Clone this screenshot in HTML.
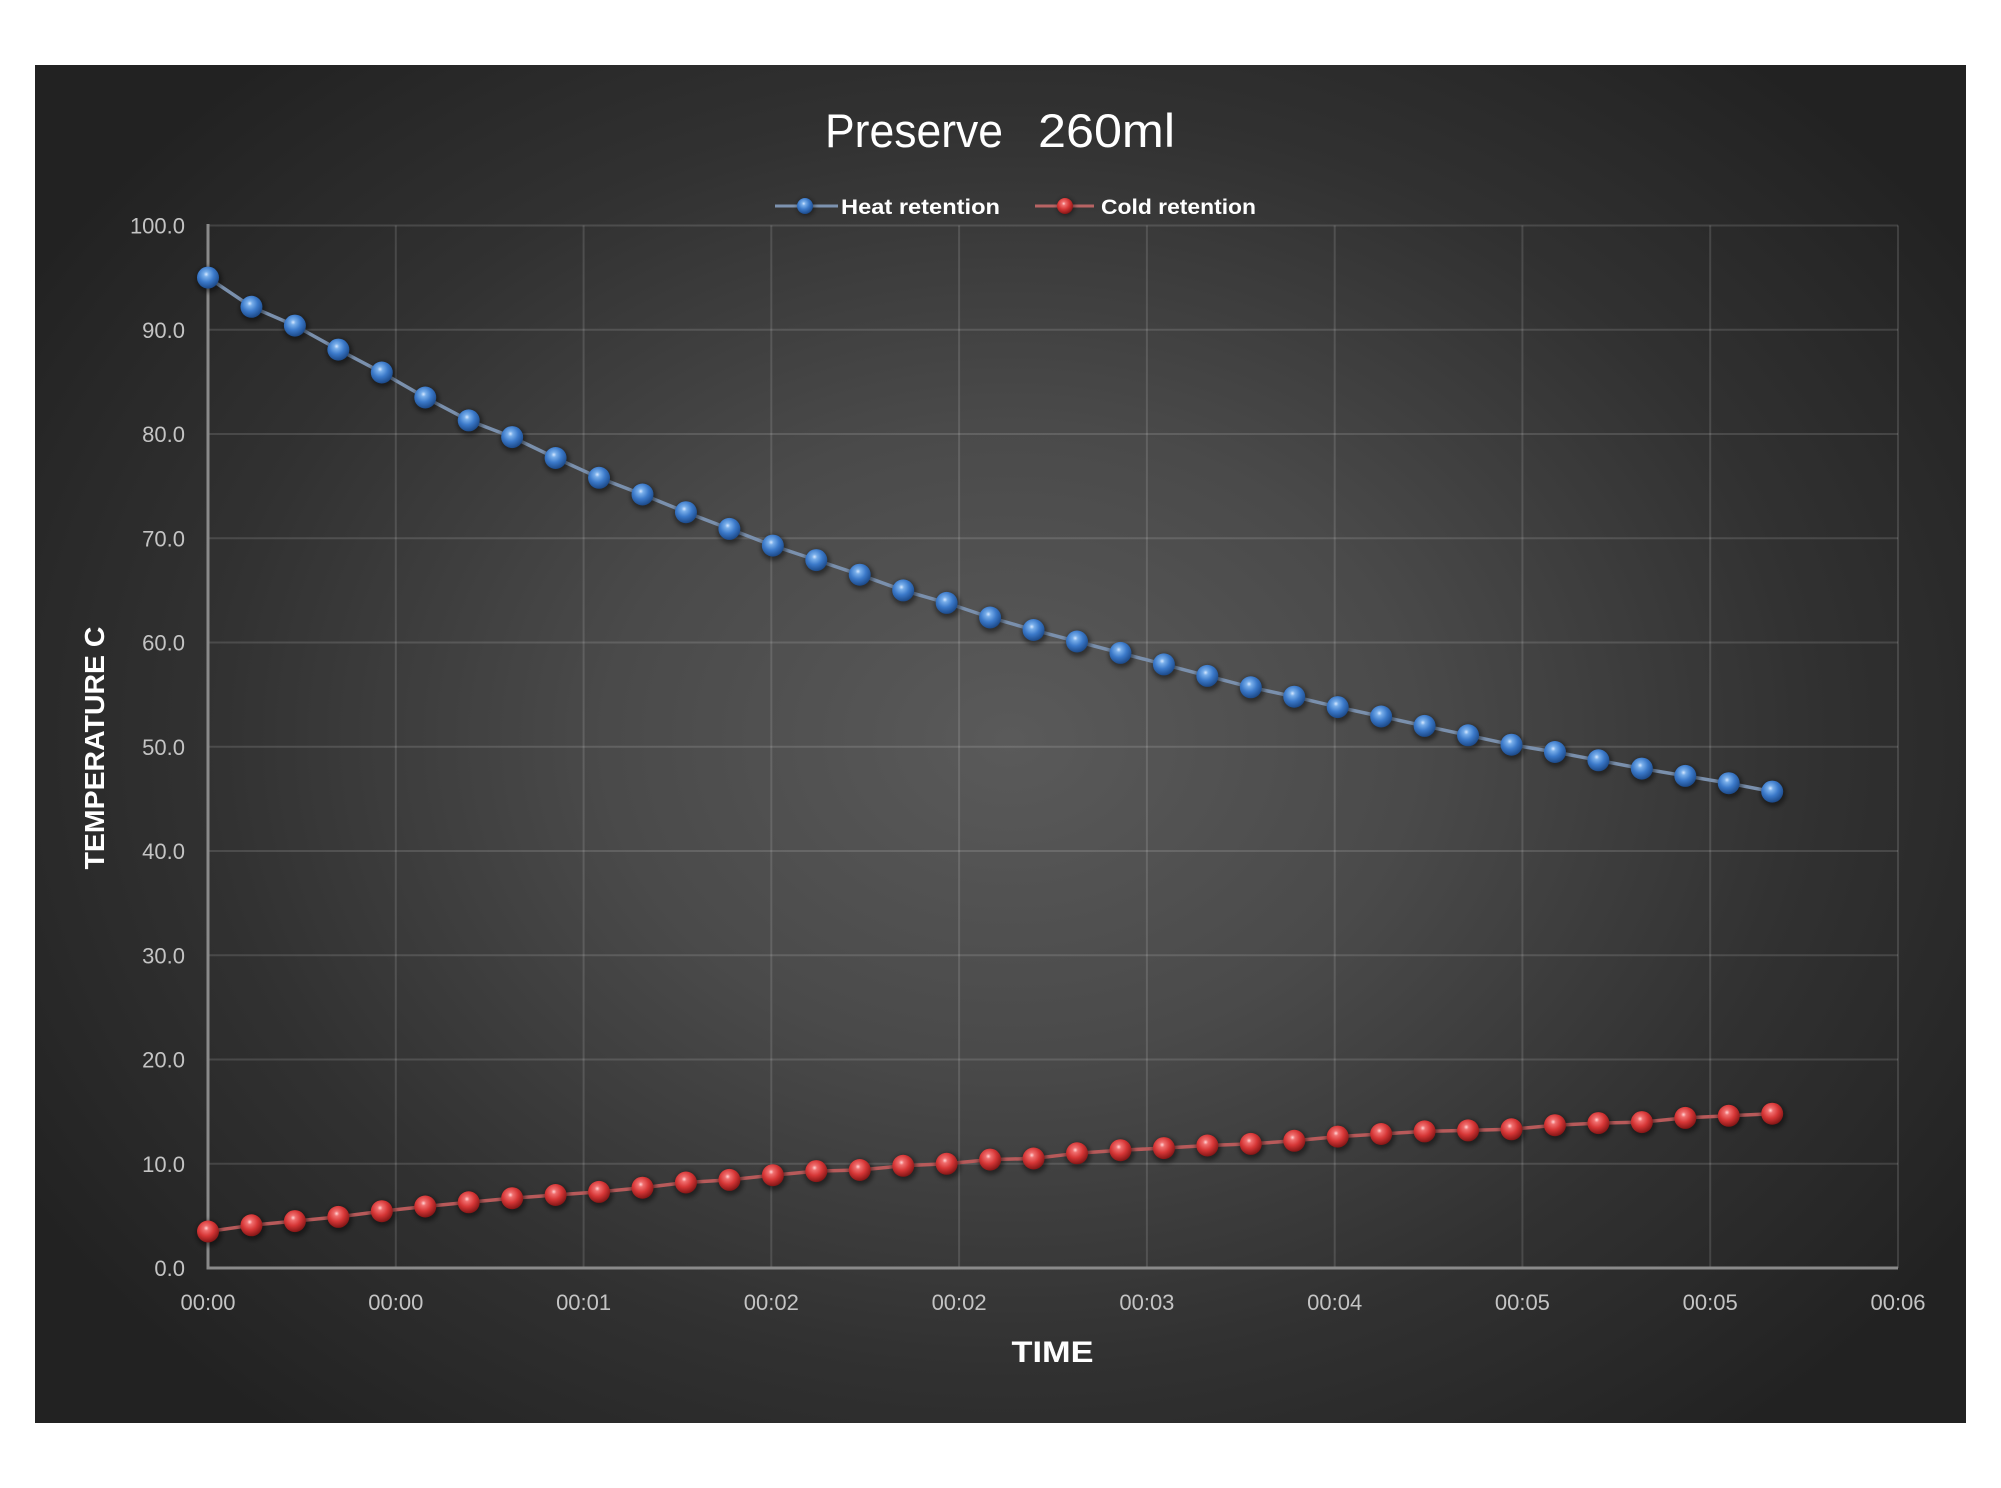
<!DOCTYPE html>
<html>
<head>
<meta charset="utf-8">
<style>
html,body{margin:0;padding:0;background:#ffffff;}
body{width:2001px;height:1488px;overflow:hidden;}
svg{display:block;}
</style>
</head>
<body>
<svg width="2001" height="1488" viewBox="0 0 2001 1488" xmlns="http://www.w3.org/2000/svg">
<defs>
  <radialGradient id="bg" cx="1010" cy="740" r="1150" gradientUnits="userSpaceOnUse" gradientTransform="translate(1010 740) scale(1 0.78) translate(-1010 -740)">
    <stop offset="0" stop-color="#5a5a5a"/>
    <stop offset="0.35" stop-color="#4a4a4a"/>
    <stop offset="0.7" stop-color="#313131"/>
    <stop offset="1" stop-color="#222222"/>
  </radialGradient>
  <radialGradient id="gb" cx="0.42" cy="0.35" r="0.65">
    <stop offset="0" stop-color="#d6e8ff"/>
    <stop offset="0.18" stop-color="#78aeea"/>
    <stop offset="0.55" stop-color="#3b79c9"/>
    <stop offset="1" stop-color="#1c4a8a"/>
  </radialGradient>
  <radialGradient id="gr" cx="0.42" cy="0.35" r="0.65">
    <stop offset="0" stop-color="#ffd6d6"/>
    <stop offset="0.18" stop-color="#f06e6e"/>
    <stop offset="0.55" stop-color="#d63636"/>
    <stop offset="1" stop-color="#851616"/>
  </radialGradient>
  <filter id="sh" x="-50%" y="-50%" width="200%" height="200%">
    <feGaussianBlur stdDeviation="2.5"/>
  </filter>
</defs>

<rect x="35" y="65" width="1931" height="1358" fill="url(#bg)"/>

<!-- gridlines -->
<g stroke="rgba(255,255,255,0.13)" stroke-width="2" fill="none">
  <line x1="208" y1="1163.75" x2="1898" y2="1163.75"/>
  <line x1="208" y1="1059.5" x2="1898" y2="1059.5"/>
  <line x1="208" y1="955.25" x2="1898" y2="955.25"/>
  <line x1="208" y1="851" x2="1898" y2="851"/>
  <line x1="208" y1="746.75" x2="1898" y2="746.75"/>
  <line x1="208" y1="642.5" x2="1898" y2="642.5"/>
  <line x1="208" y1="538.25" x2="1898" y2="538.25"/>
  <line x1="208" y1="434" x2="1898" y2="434"/>
  <line x1="208" y1="329.75" x2="1898" y2="329.75"/>
  <line x1="208" y1="225.5" x2="1898" y2="225.5"/>
  <line x1="395.8" y1="225.5" x2="395.8" y2="1268"/>
  <line x1="583.6" y1="225.5" x2="583.6" y2="1268"/>
  <line x1="771.3" y1="225.5" x2="771.3" y2="1268"/>
  <line x1="959.1" y1="225.5" x2="959.1" y2="1268"/>
  <line x1="1146.9" y1="225.5" x2="1146.9" y2="1268"/>
  <line x1="1334.7" y1="225.5" x2="1334.7" y2="1268"/>
  <line x1="1522.4" y1="225.5" x2="1522.4" y2="1268"/>
  <line x1="1710.2" y1="225.5" x2="1710.2" y2="1268"/>
  <line x1="1898" y1="225.5" x2="1898" y2="1268"/>
</g>

<!-- axes -->
<g stroke="#8a8a8a" stroke-width="3">
  <line x1="208" y1="224" x2="208" y2="1269.5"/>
  <line x1="206.5" y1="1268" x2="1898" y2="1268"/>
</g>

<!-- y tick labels -->
<g font-family="Liberation Sans, DejaVu Sans, sans-serif" font-size="22" fill="#c4c4c4" text-anchor="end">
  <text x="185" y="1276">0.0</text>
  <text x="185" y="1171.75">10.0</text>
  <text x="185" y="1067.5">20.0</text>
  <text x="185" y="963.25">30.0</text>
  <text x="185" y="859">40.0</text>
  <text x="185" y="754.75">50.0</text>
  <text x="185" y="650.5">60.0</text>
  <text x="185" y="546.25">70.0</text>
  <text x="185" y="442">80.0</text>
  <text x="185" y="337.75">90.0</text>
  <text x="185" y="233.5">100.0</text>
</g>

<!-- x tick labels -->
<g font-family="Liberation Sans, DejaVu Sans, sans-serif" font-size="22" fill="#c4c4c4" text-anchor="middle">
  <text x="208" y="1310">00:00</text>
  <text x="395.8" y="1310">00:00</text>
  <text x="583.6" y="1310">00:01</text>
  <text x="771.3" y="1310">00:02</text>
  <text x="959.1" y="1310">00:02</text>
  <text x="1146.9" y="1310">00:03</text>
  <text x="1334.7" y="1310">00:04</text>
  <text x="1522.4" y="1310">00:05</text>
  <text x="1710.2" y="1310">00:05</text>
  <text x="1898" y="1310">00:06</text>
</g>

<!-- title -->
<g font-family="Liberation Sans, DejaVu Sans, sans-serif" font-size="47" fill="#ffffff">
  <text x="825" y="147" textLength="178" lengthAdjust="spacingAndGlyphs">Preserve</text>
  <text x="1038" y="147" textLength="137" lengthAdjust="spacingAndGlyphs">260ml</text>
</g>

<!-- legend -->
<g>
  <line x1="775" y1="206" x2="838" y2="206" stroke="#7d93b0" stroke-width="3"/>
  <circle cx="806" cy="207" r="9" fill="rgba(0,0,0,0.4)" filter="url(#sh)"/>
  <circle cx="805" cy="206" r="8" fill="url(#gb)"/>
  <text x="841" y="214" font-family="Liberation Sans, DejaVu Sans, sans-serif" font-weight="bold" font-size="21" fill="#ffffff" textLength="159" lengthAdjust="spacingAndGlyphs">Heat retention</text>
  <line x1="1035" y1="206" x2="1094" y2="206" stroke="#b86464" stroke-width="3"/>
  <circle cx="1066" cy="207" r="9" fill="rgba(0,0,0,0.4)" filter="url(#sh)"/>
  <circle cx="1065" cy="206" r="8" fill="url(#gr)"/>
  <text x="1101" y="214" font-family="Liberation Sans, DejaVu Sans, sans-serif" font-weight="bold" font-size="21" fill="#ffffff" textLength="155" lengthAdjust="spacingAndGlyphs">Cold retention</text>
</g>

<!-- axis titles -->
<text transform="translate(104 748) rotate(-90)" text-anchor="middle" font-family="Liberation Sans, DejaVu Sans, sans-serif" font-weight="bold" font-size="28" fill="#ffffff" textLength="243" lengthAdjust="spacingAndGlyphs">TEMPERATURE C</text>
<text x="1052.5" y="1362" text-anchor="middle" font-family="Liberation Sans, DejaVu Sans, sans-serif" font-weight="bold" font-size="30" fill="#ffffff" textLength="82" lengthAdjust="spacingAndGlyphs">TIME</text>

<!-- heat series -->
<polyline fill="none" stroke="#7a90ad" stroke-width="3.5" stroke-linejoin="round" points="208,277.6 251.45,306.8 294.9,325.6 338.35,349.6 381.8,372.5 425.25,397.5 468.7,420.4 512.15,437.1 555.6,458 599.05,477.8 642.5,494.5 685.95,512.2 729.4,528.9 772.85,545.6 816.3,560.1 859.75,574.7 903.2,590.4 946.65,602.9 990.1,617.5 1033.55,630 1077,641.5 1120.45,652.9 1163.9,664.4 1207.35,675.9 1250.8,687.3 1294.25,696.7 1337.7,707.1 1381.15,716.5 1424.6,725.9 1468.05,735.3 1511.5,744.7 1554.95,752 1598.4,760.3 1641.85,768.6 1685.3,775.9 1728.75,783.2 1772.2,791.6"/>

<!-- cold series -->
<polyline fill="none" stroke="#b85a5a" stroke-width="3.5" stroke-linejoin="round" points="208,1231.5 251.45,1225.3 294.9,1221.1 338.35,1216.9 381.8,1211.2 425.25,1206.5 468.7,1202.3 512.15,1198.2 555.6,1195 599.05,1191.9 642.5,1187.7 685.95,1182.5 729.4,1179.9 772.85,1175.2 816.3,1171.1 859.75,1170 903.2,1165.8 946.65,1163.8 990.1,1159.6 1033.55,1158.5 1077,1153.3 1120.45,1150.2 1163.9,1148.1 1207.35,1145.5 1250.8,1143.9 1294.25,1140.8 1337.7,1136.6 1381.15,1134 1424.6,1131.4 1468.05,1130.4 1511.5,1129.3 1554.95,1125.2 1598.4,1123.1 1641.85,1122.1 1685.3,1117.9 1728.75,1115.8 1772.2,1113.7"/>

<!-- heat markers -->
<g>
<g fill="rgba(0,0,0,0.45)" filter="url(#sh)">
<circle cx="209" cy="279.6" r="13"/><circle cx="252.45" cy="308.8" r="13"/><circle cx="295.9" cy="327.6" r="13"/><circle cx="339.35" cy="351.6" r="13"/><circle cx="382.8" cy="374.5" r="13"/><circle cx="426.25" cy="399.5" r="13"/><circle cx="469.7" cy="422.4" r="13"/><circle cx="513.15" cy="439.1" r="13"/><circle cx="556.6" cy="460" r="13"/><circle cx="600.05" cy="479.8" r="13"/><circle cx="643.5" cy="496.5" r="13"/><circle cx="686.95" cy="514.2" r="13"/><circle cx="730.4" cy="530.9" r="13"/><circle cx="773.85" cy="547.6" r="13"/><circle cx="817.3" cy="562.1" r="13"/><circle cx="860.75" cy="576.7" r="13"/><circle cx="904.2" cy="592.4" r="13"/><circle cx="947.65" cy="604.9" r="13"/><circle cx="991.1" cy="619.5" r="13"/><circle cx="1034.55" cy="632" r="13"/><circle cx="1078" cy="643.5" r="13"/><circle cx="1121.45" cy="654.9" r="13"/><circle cx="1164.9" cy="666.4" r="13"/><circle cx="1208.35" cy="677.9" r="13"/><circle cx="1251.8" cy="689.3" r="13"/><circle cx="1295.25" cy="698.7" r="13"/><circle cx="1338.7" cy="709.1" r="13"/><circle cx="1382.15" cy="718.5" r="13"/><circle cx="1425.6" cy="727.9" r="13"/><circle cx="1469.05" cy="737.3" r="13"/><circle cx="1512.5" cy="746.7" r="13"/><circle cx="1555.95" cy="754" r="13"/><circle cx="1599.4" cy="762.3" r="13"/><circle cx="1642.85" cy="770.6" r="13"/><circle cx="1686.3" cy="777.9" r="13"/><circle cx="1729.75" cy="785.2" r="13"/><circle cx="1773.2" cy="793.6" r="13"/>
</g>
<g fill="url(#gb)">
<circle cx="208" cy="277.6" r="11"/><circle cx="251.45" cy="306.8" r="11"/><circle cx="294.9" cy="325.6" r="11"/><circle cx="338.35" cy="349.6" r="11"/><circle cx="381.8" cy="372.5" r="11"/><circle cx="425.25" cy="397.5" r="11"/><circle cx="468.7" cy="420.4" r="11"/><circle cx="512.15" cy="437.1" r="11"/><circle cx="555.6" cy="458" r="11"/><circle cx="599.05" cy="477.8" r="11"/><circle cx="642.5" cy="494.5" r="11"/><circle cx="685.95" cy="512.2" r="11"/><circle cx="729.4" cy="528.9" r="11"/><circle cx="772.85" cy="545.6" r="11"/><circle cx="816.3" cy="560.1" r="11"/><circle cx="859.75" cy="574.7" r="11"/><circle cx="903.2" cy="590.4" r="11"/><circle cx="946.65" cy="602.9" r="11"/><circle cx="990.1" cy="617.5" r="11"/><circle cx="1033.55" cy="630" r="11"/><circle cx="1077" cy="641.5" r="11"/><circle cx="1120.45" cy="652.9" r="11"/><circle cx="1163.9" cy="664.4" r="11"/><circle cx="1207.35" cy="675.9" r="11"/><circle cx="1250.8" cy="687.3" r="11"/><circle cx="1294.25" cy="696.7" r="11"/><circle cx="1337.7" cy="707.1" r="11"/><circle cx="1381.15" cy="716.5" r="11"/><circle cx="1424.6" cy="725.9" r="11"/><circle cx="1468.05" cy="735.3" r="11"/><circle cx="1511.5" cy="744.7" r="11"/><circle cx="1554.95" cy="752" r="11"/><circle cx="1598.4" cy="760.3" r="11"/><circle cx="1641.85" cy="768.6" r="11"/><circle cx="1685.3" cy="775.9" r="11"/><circle cx="1728.75" cy="783.2" r="11"/><circle cx="1772.2" cy="791.6" r="11"/>
</g>
</g>

<!-- cold markers -->
<g>
<g fill="rgba(0,0,0,0.45)" filter="url(#sh)">
<circle cx="209" cy="1233.5" r="13"/><circle cx="252.45" cy="1227.3" r="13"/><circle cx="295.9" cy="1223.1" r="13"/><circle cx="339.35" cy="1218.9" r="13"/><circle cx="382.8" cy="1213.2" r="13"/><circle cx="426.25" cy="1208.5" r="13"/><circle cx="469.7" cy="1204.3" r="13"/><circle cx="513.15" cy="1200.2" r="13"/><circle cx="556.6" cy="1197" r="13"/><circle cx="600.05" cy="1193.9" r="13"/><circle cx="643.5" cy="1189.7" r="13"/><circle cx="686.95" cy="1184.5" r="13"/><circle cx="730.4" cy="1181.9" r="13"/><circle cx="773.85" cy="1177.2" r="13"/><circle cx="817.3" cy="1173.1" r="13"/><circle cx="860.75" cy="1172" r="13"/><circle cx="904.2" cy="1167.8" r="13"/><circle cx="947.65" cy="1165.8" r="13"/><circle cx="991.1" cy="1161.6" r="13"/><circle cx="1034.55" cy="1160.5" r="13"/><circle cx="1078" cy="1155.3" r="13"/><circle cx="1121.45" cy="1152.2" r="13"/><circle cx="1164.9" cy="1150.1" r="13"/><circle cx="1208.35" cy="1147.5" r="13"/><circle cx="1251.8" cy="1145.9" r="13"/><circle cx="1295.25" cy="1142.8" r="13"/><circle cx="1338.7" cy="1138.6" r="13"/><circle cx="1382.15" cy="1136" r="13"/><circle cx="1425.6" cy="1133.4" r="13"/><circle cx="1469.05" cy="1132.4" r="13"/><circle cx="1512.5" cy="1131.3" r="13"/><circle cx="1555.95" cy="1127.2" r="13"/><circle cx="1599.4" cy="1125.1" r="13"/><circle cx="1642.85" cy="1124.1" r="13"/><circle cx="1686.3" cy="1119.9" r="13"/><circle cx="1729.75" cy="1117.8" r="13"/><circle cx="1773.2" cy="1115.7" r="13"/>
</g>
<g fill="url(#gr)">
<circle cx="208" cy="1231.5" r="11"/><circle cx="251.45" cy="1225.3" r="11"/><circle cx="294.9" cy="1221.1" r="11"/><circle cx="338.35" cy="1216.9" r="11"/><circle cx="381.8" cy="1211.2" r="11"/><circle cx="425.25" cy="1206.5" r="11"/><circle cx="468.7" cy="1202.3" r="11"/><circle cx="512.15" cy="1198.2" r="11"/><circle cx="555.6" cy="1195" r="11"/><circle cx="599.05" cy="1191.9" r="11"/><circle cx="642.5" cy="1187.7" r="11"/><circle cx="685.95" cy="1182.5" r="11"/><circle cx="729.4" cy="1179.9" r="11"/><circle cx="772.85" cy="1175.2" r="11"/><circle cx="816.3" cy="1171.1" r="11"/><circle cx="859.75" cy="1170" r="11"/><circle cx="903.2" cy="1165.8" r="11"/><circle cx="946.65" cy="1163.8" r="11"/><circle cx="990.1" cy="1159.6" r="11"/><circle cx="1033.55" cy="1158.5" r="11"/><circle cx="1077" cy="1153.3" r="11"/><circle cx="1120.45" cy="1150.2" r="11"/><circle cx="1163.9" cy="1148.1" r="11"/><circle cx="1207.35" cy="1145.5" r="11"/><circle cx="1250.8" cy="1143.9" r="11"/><circle cx="1294.25" cy="1140.8" r="11"/><circle cx="1337.7" cy="1136.6" r="11"/><circle cx="1381.15" cy="1134" r="11"/><circle cx="1424.6" cy="1131.4" r="11"/><circle cx="1468.05" cy="1130.4" r="11"/><circle cx="1511.5" cy="1129.3" r="11"/><circle cx="1554.95" cy="1125.2" r="11"/><circle cx="1598.4" cy="1123.1" r="11"/><circle cx="1641.85" cy="1122.1" r="11"/><circle cx="1685.3" cy="1117.9" r="11"/><circle cx="1728.75" cy="1115.8" r="11"/><circle cx="1772.2" cy="1113.7" r="11"/>
</g>
</g>
</svg>
</body>
</html>
